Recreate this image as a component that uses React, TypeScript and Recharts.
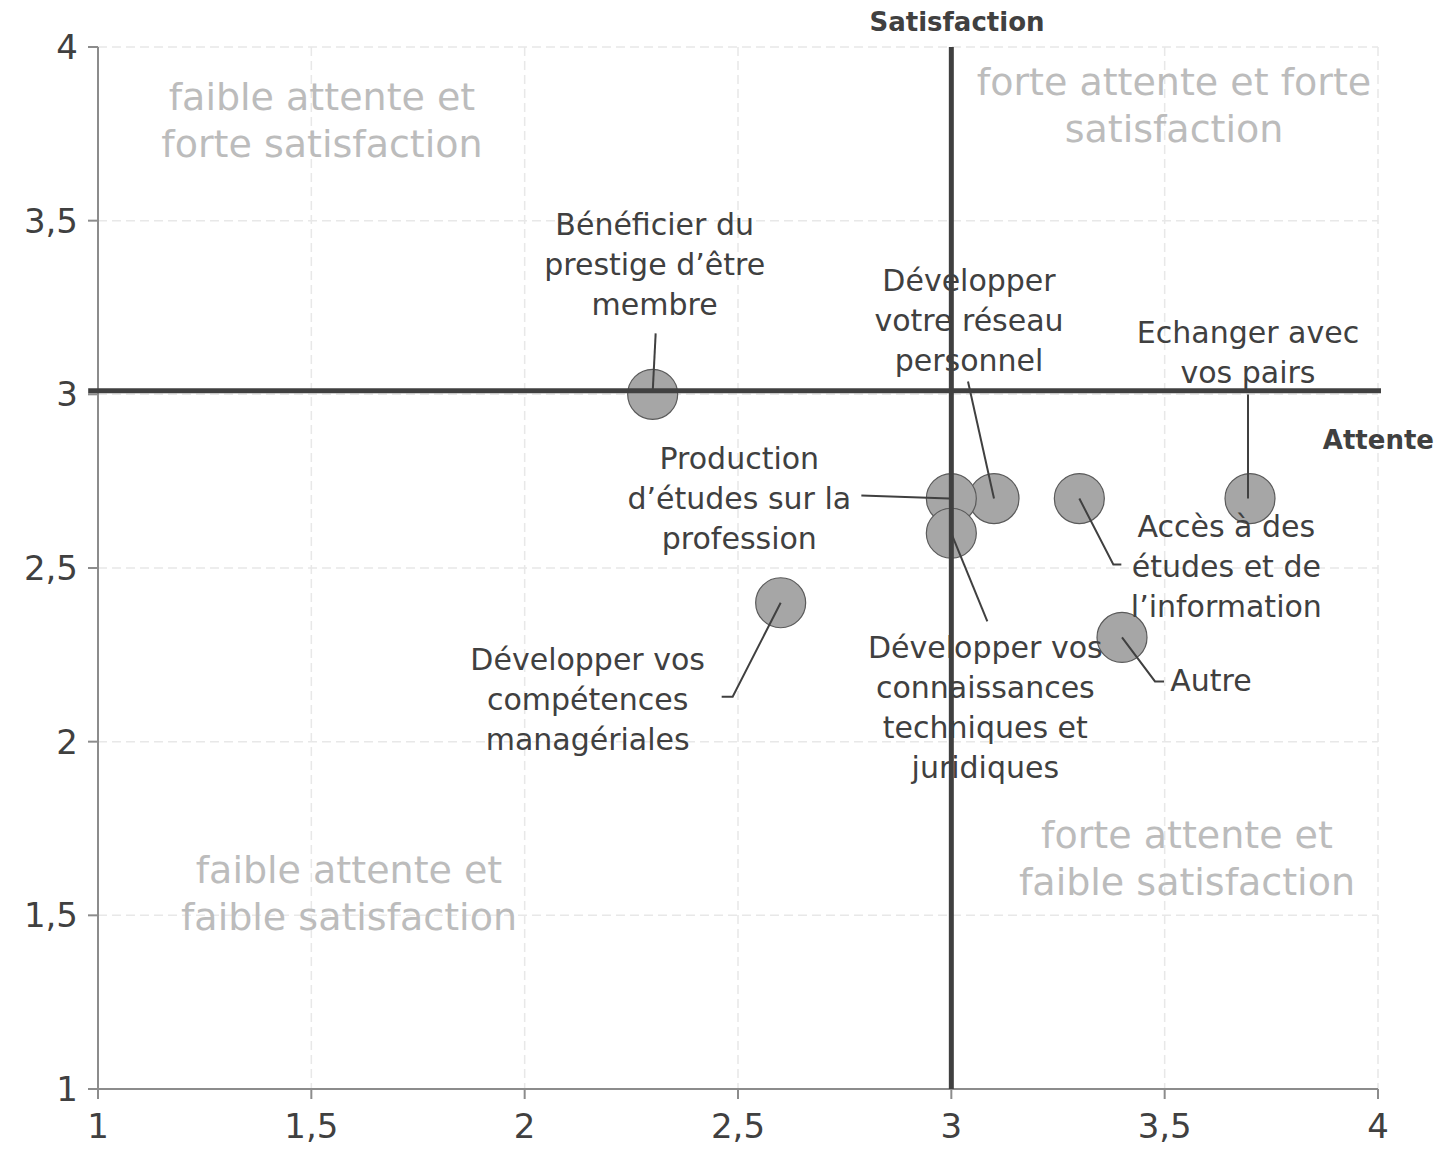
import { ScatterChart, Scatter, XAxis, YAxis, CartesianGrid, ReferenceLine } from "recharts";

// data
const items = [
  "Bénéficier du prestige d’être membre",
  "Développer votre réseau personnel",
  "Echanger avec vos pairs",
  "Production d’études sur la profession",
  "Accès à des études et de l’information",
  "Développer vos compétences managériales",
  "Développer vos connaissances techniques et juridiques",
  "Autre",
];
const attente = [2.3, 3.1, 3.7, 3.0, 3.3, 2.6, 3.0, 3.4];
const satisfaction = [3.0, 2.7, 2.7, 2.7, 2.7, 2.4, 2.6, 2.3];
const labelLines = [
  ["Bénéficier du", "prestige d’être", "membre"],
  ["Développer", "votre réseau", "personnel"],
  ["Echanger avec", "vos pairs"],
  ["Production", "d’études sur la", "profession"],
  ["Accès à des", "études et de", "l’information"],
  ["Développer vos", "compétences", "managériales"],
  ["Développer vos", "connaissances", "techniques et", "juridiques"],
  ["Autre"],
];
const axisTicks = [1, 1.5, 2, 2.5, 3, 3.5, 4];
const quadrantLines = [
  ["faible attente et", "forte satisfaction"],
  ["forte attente et forte", "satisfaction"],
  ["faible attente et", "faible satisfaction"],
  ["forte attente et", "faible satisfaction"],
];

// callout placement, pixels relative to each bubble
const callouts = [
  { dx: 2, dy: -170, leader: [[3, -61], [0, -2]] },
  { dx: -25, dy: -218, leader: [[-26, -117], [0, 0]] },
  { dx: -2, dy: -166, leader: [[-2, -104], [-2, 0]] },
  { dx: -212, dy: -40, leader: [[-90, -3], [-2, 0]] },
  { dx: 147, dy: 28, leader: [[0, 0], [34, 66], [42, 66]] },
  { dx: -193, dy: 57, leader: [[0, 0], [-48, 94], [-59, 94]] },
  { dx: 34, dy: 114, leader: [[0, 0], [36, 88]] },
  { dx: 89, dy: 43, leader: [[0, 0], [33, 44], [42, 44]] },
];
const quadrantPos = [
  { x: 322, y: 97 },
  { x: 1174, y: 82 },
  { x: 349, y: 870 },
  { x: 1187, y: 835 },
];

const FONT = "'DejaVu Sans', sans-serif";
const DARK = "#404040";

const rows = items.map((name, i) => ({ id: i, name, attente: attente[i], satisfaction: satisfaction[i] }));

const fmt = (v: number) => String(v).replace(".", ",");

function Bubble(props: any) {
  return <circle cx={props.cx} cy={props.cy} r={25} fill="#a6a6a6" stroke="#5a5a5a" strokeWidth={1.2} />;
}

function Callout(props: any) {
  const id = props.payload?.id ?? 0;
  const c = callouts[id];
  const { cx, cy } = props;
  const pts = c.leader.map(([a, b]) => `${cx + a},${cy + b}`).join(" ");
  return (
    <g>
      <polyline points={pts} fill="none" stroke={DARK} strokeWidth={2} />
      <text x={cx + c.dx} textAnchor="middle" fontFamily={FONT} fontSize={30} fill={DARK}>
        {labelLines[id].map((l, k) => (
          <tspan key={k} x={cx + c.dx} y={cy + c.dy + k * 40} dominantBaseline="central">
            {l}
          </tspan>
        ))}
      </text>
    </g>
  );
}

export default function App() {
  return (
    <div style={{ width: 1436, height: 1152 }}>
      <style>{`body{margin:0}`}</style>
      <ScatterChart width={1436} height={1152} margin={{ top: 47, right: 58, left: 0, bottom: 0 }}>
        <CartesianGrid stroke="#e8e8e8" strokeDasharray="9 5" strokeWidth={1.5} />
        {quadrantLines.map((lines, i) => (
          <text key={i} textAnchor="middle" fontFamily={FONT} fontSize={38} fill="#bcbcbc">
            {lines.map((l, k) => (
              <tspan key={k} x={quadrantPos[i].x} y={quadrantPos[i].y + k * 47} dominantBaseline="central">
                {l}
              </tspan>
            ))}
          </text>
        ))}
        <XAxis
          type="number"
          dataKey="attente"
          domain={[1, 4]}
          ticks={axisTicks}
          tickFormatter={fmt}
          height={63}
          tickSize={10}
          tickMargin={15}
          axisLine={{ stroke: "#8c8c8c", strokeWidth: 2 }}
          tickLine={{ stroke: "#8c8c8c", strokeWidth: 2 }}
          tick={{ fill: DARK, fontSize: 34, fontFamily: FONT }}
        />
        <YAxis
          type="number"
          dataKey="satisfaction"
          domain={[1, 4]}
          ticks={axisTicks}
          tickFormatter={fmt}
          width={98}
          tickSize={10}
          tickMargin={10}
          axisLine={{ stroke: "#8c8c8c", strokeWidth: 2 }}
          tickLine={{ stroke: "#8c8c8c", strokeWidth: 2 }}
          tick={{ fill: DARK, fontSize: 34, fontFamily: FONT }}
        />
        <Scatter data={rows} shape={Bubble} isAnimationActive={false} />
        <Scatter data={rows} shape={Callout} isAnimationActive={false} />
        <ReferenceLine
          zIndex={900}
          ifOverflow="visible"
          segment={[{ x: 0.977, y: 3.01 }, { x: 4.007, y: 3.01 }]}
          stroke={DARK}
          strokeWidth={5}
        />
        <ReferenceLine zIndex={900} x={3} ifOverflow="visible" stroke={DARK} strokeWidth={5} />
        <text x={957} y={22} textAnchor="middle" dominantBaseline="central" fontFamily={FONT} fontWeight="bold" fontSize={26} fill={DARK}>
          Satisfaction
        </text>
        <text x={1434} y={440} textAnchor="end" dominantBaseline="central" fontFamily={FONT} fontWeight="bold" fontSize={26} fill={DARK}>
          Attente
        </text>
      </ScatterChart>
    </div>
  );
}
